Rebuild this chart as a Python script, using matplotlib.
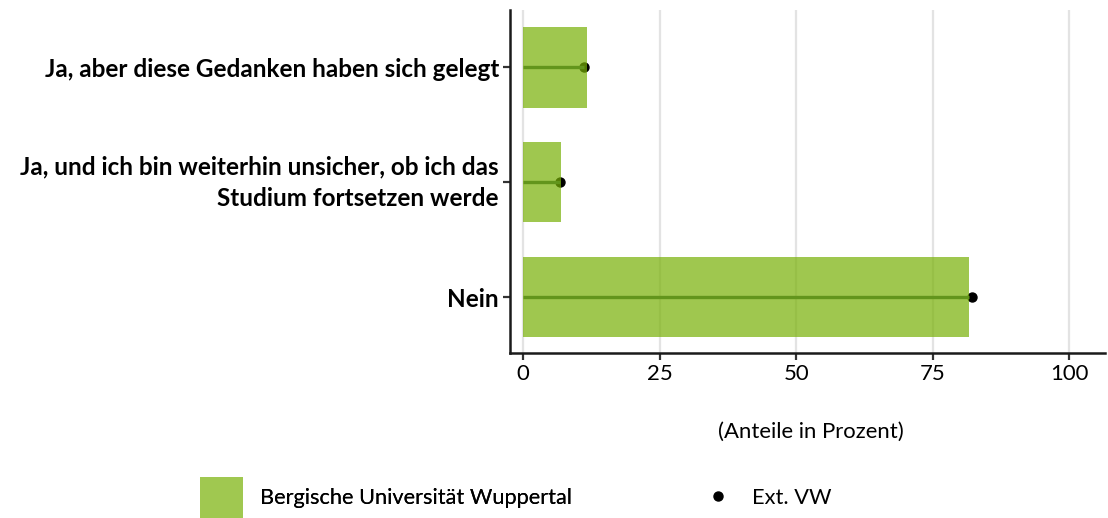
import matplotlib
matplotlib.use("Agg")
import matplotlib.pyplot as plt
from matplotlib.patches import Patch
from matplotlib.lines import Line2D

categories = [
    "Ja, aber diese Gedanken haben sich gelegt",
    "Ja, und ich bin weiterhin unsicher, ob ich das\nStudium fortsetzen werde",
    "Nein",
]
buw_values = [11.7, 7.0, 81.6]
ext_vw_values = [11.2, 6.8, 82.2]
xticks = [0, 25, 50, 75, 100]
xlabel = "(Anteile in Prozent)"
legend_labels = ["Bergische Universität Wuppertal", "Ext. VW"]

plt.rcParams['font.family'] = ['Lato', 'DejaVu Sans']

W, H = 1108, 518
fig = plt.figure(figsize=(W / 100, H / 100), dpi=100)
ax = fig.add_axes([510 / W, (H - 353) / H, (1105 - 510) / W, (353 - 10) / H])

ypos = list(range(len(categories)))
bar_color = (119 / 255, 176 / 255, 5 / 255)
legend_bar_color = '#A0C850'
line_color = '#62951C'

ax.set_axisbelow(True)
ax.grid(axis='x', color='#E3E3E3', linewidth=1.6)
ax.grid(axis='y', visible=False)

ax.scatter(ext_vw_values, ypos, s=42, color='black', zorder=3)
ax.barh(ypos, buw_values, height=0.7, color=bar_color, alpha=0.7, zorder=4, linewidth=0)
for y, v, b in zip(ypos, ext_vw_values, buw_values):
    ax.plot([0, min(v, b)], [y, y], color=line_color, linewidth=2.4, zorder=5,
            solid_capstyle='butt')
    if v > b:
        ax.plot([b, v], [y, y], color='black', linewidth=2.4, zorder=3,
                solid_capstyle='butt')

ax.set_xlim(-2.38, 106.5)
ax.set_ylim(2.487, -0.5)
ax.set_xticks(xticks)
ax.set_xticklabels([str(t) for t in xticks], fontsize=15.9)
ax.set_yticks(ypos)
ax.set_yticklabels(categories, fontsize=17.5, fontweight='bold', linespacing=1.45)
for lab in ax.get_yticklabels():
    lab.set_horizontalalignment('right')
    lab.set_multialignment('right')
    if '\n' in lab.get_text():
        lab.set_verticalalignment('center')

for s in ['top', 'right']:
    ax.spines[s].set_visible(False)
for s in ['left', 'bottom']:
    ax.spines[s].set_linewidth(1.8)
    ax.spines[s].set_color('#1a1a1a')
ax.tick_params(axis='both', length=5, width=1.6, color='#333333', pad=3)
ax.tick_params(axis='x', pad=3)

fig.text(811 / W, 1 - 432 / H, xlabel, ha='center', va='center', fontsize=15.9)

leg_y = 1 - 497.5 / H
leg1 = fig.legend([Patch(facecolor=legend_bar_color, edgecolor='none')],
                  [legend_labels[0]], loc='center left', bbox_to_anchor=(200 / W, leg_y),
                  frameon=False, fontsize=15.7, handlelength=1.97, handleheight=2.52,
                  handletextpad=0.78, borderpad=0, borderaxespad=0)
fig.add_artist(leg1)
fig.legend([Line2D([], [], linestyle='none', marker='o', markersize=6.5, color='black')],
           [legend_labels[1]], loc='center left', bbox_to_anchor=(707 / W, leg_y),
           frameon=False, fontsize=15.7, handlelength=1.0, handletextpad=1.06,
           borderpad=0, borderaxespad=0)

fig.savefig("out.png", dpi=100)
